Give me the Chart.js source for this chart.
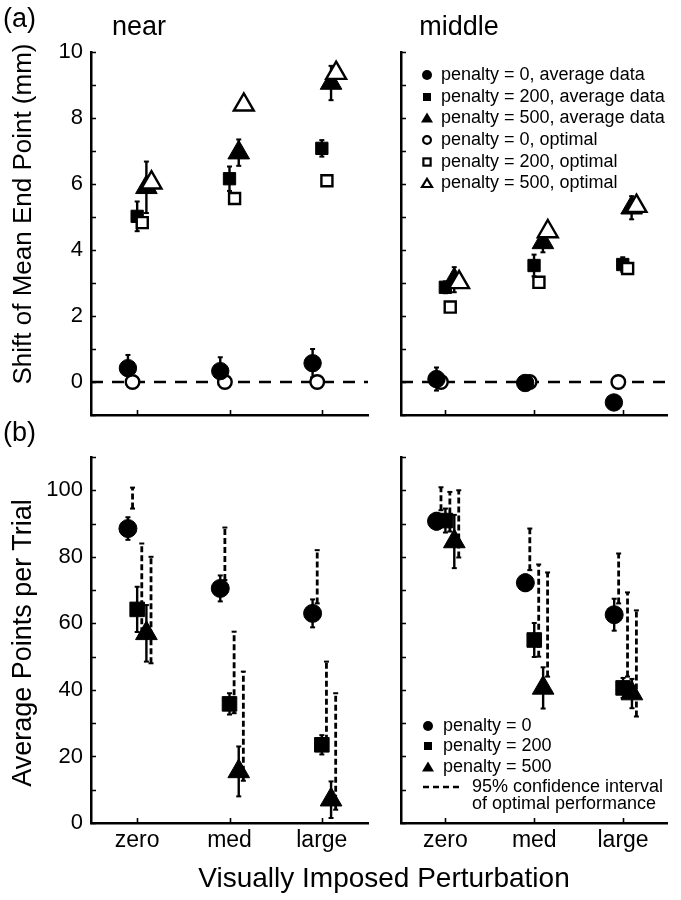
<!DOCTYPE html>
<html>
<head>
<meta charset="utf-8">
<script src="https://cdn.jsdelivr.net/npm/chart.js@4.4.1/dist/chart.umd.min.js"></script>
<style>
  html, body { margin: 0; padding: 0; background: #fff; }
  body { width: 681px; height: 900px; position: relative; overflow: hidden;
         font-family: "Liberation Sans", Arial, sans-serif; color: #000; }
  canvas { position: absolute; left: 0; top: 0; }
  .t { position: absolute; white-space: nowrap; line-height: 1; }
  .big { font-size: 27px; }
  .leg { font-size: 18px; }
  .mk { position: absolute; }
</style>
</head>
<body>
<canvas id="cTL" width="681" height="900"></canvas>
<canvas id="cTR" width="681" height="900"></canvas>
<canvas id="cBL" width="681" height="900"></canvas>
<canvas id="cBR" width="681" height="900"></canvas>

<div class="t big" style="left:3px; top:5px;">(a)</div>
<div class="t big" style="left:3px; top:419px;">(b)</div>
<div class="t big" style="left:139px; top:13px; transform:translateX(-50%);">near</div>
<div class="t big" style="left:459px; top:13px; transform:translateX(-50%);">middle</div>
<div class="t big" style="left:22px; top:214px; font-size:26px; transform:translate(-50%,-50%) rotate(-90deg);">Shift of Mean End Point (mm)</div>
<div class="t big" style="left:22px; top:643px; transform:translate(-50%,-50%) rotate(-90deg);">Average Points per Trial</div>
<div class="t big" style="left:384px; top:864px; font-size:28px; transform:translateX(-50%);">Visually Imposed Perturbation</div>
<div id="legends"></div>

<script>
// ---------- DATA ----------
const CATS = ["zero", "med", "large"];
const CAT_X = [1, 2, 3];

// (a) shift of mean end point (mm), "near" target
const nearAvg0 = [0.42, 0.33, 0.57];
const nearAvg0Err = [0.40, 0.42, 0.43];
const nearAvg200 = [5.02, 6.16, 7.08];
const nearAvg200Err = [0.45, 0.37, 0.25];
const nearAvg500 = [5.90, 6.95, 9.06];
const nearAvg500Err = [0.78, 0.40, 0.52];
const nearOpt0 = [0, 0, 0];
const nearOpt200 = [4.83, 5.56, 6.10];
const nearOpt500 = [6.04, 8.40, 9.36];

// (a) "middle" target
const midAvg0 = [0.09, -0.03, -0.62];
const midAvg0Err = [0.35, 0.08, 0.08];
const midAvg200 = [2.87, 3.53, 3.56];
const midAvg200Err = [0.18, 0.33, 0.22];
const midAvg500 = [3.10, 4.23, 5.28];
const midAvg500Err = [0.38, 0.30, 0.35];
const midOpt0 = [0, 0, 0];
const midOpt200 = [2.27, 3.02, 3.44];
const midOpt500 = [3.02, 4.56, 5.33];

// (b) average points per trial, "near"
const nearPts0 = [88.5, 70.5, 63.0];
const nearPts0Err = [3.4, 3.9, 4.2];
const nearPts200 = [64.2, 35.8, 23.5];
const nearPts200Err = [6.8, 3.2, 2.9];
const nearPts500 = [57.0, 15.5, 7.0];
const nearPts500Err = [8.5, 7.5, 5.5];
const nearCI0Low = [94.5, 73.0, 66.0];
const nearCI0High = [100.8, 88.8, 82.0];
const nearCI200Low = [57.0, 33.0, 22.0];
const nearCI200High = [84.0, 57.5, 48.5];
const nearCI500Low = [48.0, 12.7, 4.0];
const nearCI500High = [80.0, 45.5, 39.0];

// (b) "middle"
const midPts0 = [90.7, 72.2, 62.6];
const midPts0Err = [2.5, 2.5, 4.8];
const midPts200 = [90.9, 55.0, 40.6];
const midPts200Err = [3.6, 5.1, 3.0];
const midPts500 = [84.6, 40.6, 38.9];
const midPts500Err = [8.0, 6.2, 4.4];
const midCI0Low = [94.0, 76.0, 66.0];
const midCI0High = [100.9, 88.5, 81.0];
const midCI200Low = [87.6, 50.0, 44.0];
const midCI200High = [99.5, 77.7, 69.3];
const midCI500Low = [79.8, 44.0, 32.0];
const midCI500High = [100.0, 75.3, 63.9];

// y ticks
const shiftTicks = [-1, 0, 1, 2, 3, 4, 5, 6, 7, 8, 9, 10];
const shiftLabels = [0, 2, 4, 6, 8, 10];
const pointTicks = [0, 10, 20, 30, 40, 50, 60, 70, 80, 90, 100, 110];
const pointLabels = [0, 20, 40, 60, 80, 100];

// legend texts
const legendA = ["penalty = 0, average data", "penalty = 200, average data", "penalty = 500, average data",
                 "penalty = 0, optimal", "penalty = 200, optimal", "penalty = 500, optimal"];
const legendB = ["penalty = 0", "penalty = 200", "penalty = 500"];
const legendCI = ["95% confidence interval", "of optimal performance"];

// ---------- STYLE ----------
const X_MIN = 0.5, X_MAX = 3.5;
const OFF = { p0: -0.1, o0: -0.05, p200: 0, o200: 0.055, p500: 0.1, o500: 0.155 };
const LW = 2.4;
Chart.defaults.font.family = '"Liberation Sans", Arial, sans-serif';
Chart.defaults.color = "#000";

// ---------- HELPERS ----------
function marker(vals, off, style, filled, r, order) {
  return {
    data: vals.map((v, i) => ({ x: CAT_X[i] + off, y: v })),
    pointStyle: style, pointRadius: r, pointHoverRadius: r,
    pointBackgroundColor: filled ? "#000" : "#fff",
    pointBorderColor: "#000", pointBorderWidth: filled ? 1 : LW,
    showLine: false, clip: false, order
  };
}

function vbars(lows, highs, off, dashed) {
  const data = [];
  lows.forEach((lo, i) => {
    const x = CAT_X[i] + off;
    data.push({ x, y: lo }, { x, y: highs[i] }, { x, y: null });
  });
  return {
    data, showLine: true, spanGaps: false, borderColor: "#000", borderWidth: dashed ? 2.8 : LW,
    borderDash: dashed ? [6, 3] : [], pointStyle: "line", pointRadius: 2.5, pointHoverRadius: 2.5,
    pointBorderColor: "#000", pointBorderWidth: 2, clip: false, order: dashed ? 9 : 7
  };
}

function errBars(vals, errs, off) {
  return vbars(vals.map((v, i) => v - errs[i]), vals.map((v, i) => v + errs[i]), off, false);
}

function zeroLine() {
  return {
    data: [{ x: X_MIN, y: 0 }, { x: X_MAX, y: 0 }], showLine: true, borderColor: "#000",
    borderWidth: 2.5, borderDash: [12, 9], pointRadius: 0, clip: false, order: 8
  };
}

// inward tick marks
const inTicks = {
  id: "inTicks",
  beforeDatasetsDraw(chart) {
    const { ctx, chartArea: a, scales: { x, y } } = chart;
    ctx.save();
    ctx.strokeStyle = "#000";
    ctx.lineWidth = 1.6;
    ctx.beginPath();
    y.ticks.forEach(t => {
      const py = Math.round(y.getPixelForValue(t.value)) + 0.5;
      ctx.moveTo(a.left, py); ctx.lineTo(a.left + 5, py);
    });
    x.ticks.forEach(t => {
      const px = Math.round(x.getPixelForValue(t.value)) + 0.5;
      ctx.moveTo(px, a.bottom); ctx.lineTo(px, a.bottom - 5);
    });
    ctx.stroke();
    ctx.restore();
  }
};

function panel(id, area, yTicks, yLabels, showY, showX, datasets) {
  const yw = showY ? 91 : 31;
  const xh = showX ? 77 : 25;
  new Chart(document.getElementById(id), {
    type: "scatter",
    data: { datasets },
    options: {
      responsive: false, animation: false, events: [],
      layout: { padding: { left: area.left - yw, top: area.top, right: 681 - area.right, bottom: 900 - area.bottom - xh } },
      plugins: { legend: { display: false }, tooltip: { enabled: false } },
      scales: {
        x: {
          type: "linear", min: X_MIN, max: X_MAX,
          afterBuildTicks: s => { s.ticks = CAT_X.map(v => ({ value: v })); },
          afterFit: s => { s.height = xh; },
          grid: { display: false, drawTicks: false },
          border: { display: true, color: "#000", width: 2.5 },
          ticks: { display: showX, autoSkip: false, maxRotation: 0, padding: 4, font: { size: 23 },
                   callback: v => CATS[CAT_X.indexOf(v)] || "" }
        },
        y: {
          type: "linear", min: yTicks[0], max: yTicks[yTicks.length - 1],
          afterBuildTicks: s => { s.ticks = yTicks.map(v => ({ value: v })); },
          afterFit: s => { s.width = yw; },
          grid: { display: false, drawTicks: false },
          border: { display: true, color: "#000", width: 2.5 },
          ticks: { display: showY, autoSkip: false, padding: 8, font: { size: 22 },
                   callback: v => yLabels.includes(v) ? String(v) : "" }
        }
      }
    },
    plugins: [inTicks]
  });
}

function shiftSets(a0, a0e, a200, a200e, a500, a500e, o0, o200, o500) {
  return [
    marker(o500, OFF.o500, "triangle", false, 11.5, 1),
    marker(a500, OFF.p500, "triangle", true, 12.5, 2),
    marker(o200, OFF.o200, "rect", false, 7.8, 3),
    marker(a200, OFF.p200, "rect", true, 8.7, 4),
    marker(a0, OFF.p0, "circle", true, 8.7, 5),
    marker(o0, OFF.o0, "circle", false, 6.8, 6),
    errBars(a0, a0e, OFF.p0),
    errBars(a200, a200e, OFF.p200),
    errBars(a500, a500e, OFF.p500),
    zeroLine()
  ];
}

function pointSets(p0, p0e, p200, p200e, p500, p500e, c0l, c0h, c200l, c200h, c500l, c500h) {
  return [
    marker(p500, OFF.p500, "triangle", true, 12.5, 1),
    marker(p200, OFF.p200, "rect", true, 10.3, 2),
    marker(p0, OFF.p0, "circle", true, 9, 3),
    errBars(p0, p0e, OFF.p0),
    errBars(p200, p200e, OFF.p200),
    errBars(p500, p500e, OFF.p500),
    vbars(c0l, c0h, OFF.o0, true),
    vbars(c200l, c200h, OFF.o200 - 0.005, true),
    vbars(c500l, c500h, OFF.o500 - 0.005, true)
  ];
}

// ---------- PANELS ----------
panel("cTL", { left: 91, right: 368, top: 52, bottom: 415 }, shiftTicks, shiftLabels, true, false,
  shiftSets(nearAvg0, nearAvg0Err, nearAvg200, nearAvg200Err, nearAvg500, nearAvg500Err, nearOpt0, nearOpt200, nearOpt500));
panel("cTR", { left: 401, right: 678, top: 52, bottom: 415 }, shiftTicks, shiftLabels, false, false,
  shiftSets(midAvg0, midAvg0Err, midAvg200, midAvg200Err, midAvg500, midAvg500Err, midOpt0, midOpt200, midOpt500));
panel("cBL", { left: 91, right: 368, top: 457, bottom: 823 }, pointTicks, pointLabels, true, true,
  pointSets(nearPts0, nearPts0Err, nearPts200, nearPts200Err, nearPts500, nearPts500Err,
            nearCI0Low, nearCI0High, nearCI200Low, nearCI200High, nearCI500Low, nearCI500High));
panel("cBR", { left: 401, right: 678, top: 457, bottom: 823 }, pointTicks, pointLabels, false, true,
  pointSets(midPts0, midPts0Err, midPts200, midPts200Err, midPts500, midPts500Err,
            midCI0Low, midCI0High, midCI200Low, midCI200High, midCI500Low, midCI500High));

// ---------- LEGENDS ----------
function svgMarker(shape, filled) {
  const st = filled ? 'fill="#000"' : 'fill="#fff" stroke="#000" stroke-width="2.2"';
  if (shape === "circle") return `<circle cx="7" cy="7" r="${filled ? 5 : 3.9}" ${st}/>`;
  if (shape === "rect") return filled ? `<rect x="3" y="3" width="8" height="8" ${st}/>`
                                      : `<rect x="3.4" y="3.4" width="7.2" height="7.2" ${st}/>`;
  return filled ? `<polygon points="7,1.5 13,11.5 1,11.5" ${st}/>`
                : `<polygon points="7,2.8 12,11 2,11" ${st}/>`;
}

const box = document.getElementById("legends");
function legRow(shape, filled, mx, tx, y, text) {
  box.insertAdjacentHTML("beforeend",
    `<svg class="mk" width="14" height="14" style="left:${mx - 7}px; top:${y - 7}px">${svgMarker(shape, filled)}</svg>` +
    `<div class="t leg" style="left:${tx}px; top:${y - 9.7}px">${text}</div>`);
}

const shapes = ["circle", "rect", "triangle"];
const rowsA = [75, 97, 118, 140, 162, 183];
legendA.forEach((txt, i) => legRow(shapes[i % 3], i < 3, 427, 441, rowsA[i], txt));

const rowsB = [726, 746, 767];
legendB.forEach((txt, i) => legRow(shapes[i], true, 428, 443, rowsB[i], txt));

const rowsCI = [787, 804];
box.insertAdjacentHTML("beforeend",
  `<svg class="mk" width="40" height="6" style="left:422px; top:${rowsCI[0] - 3}px">` +
  `<line x1="1" y1="3" x2="39" y2="3" stroke="#000" stroke-width="2.4" stroke-dasharray="6,4"/></svg>`);
legendCI.forEach((txt, i) => {
  box.insertAdjacentHTML("beforeend", `<div class="t leg" style="left:472px; top:${rowsCI[i] - 9.7}px">${txt}</div>`);
});
</script>
</body>
</html>
